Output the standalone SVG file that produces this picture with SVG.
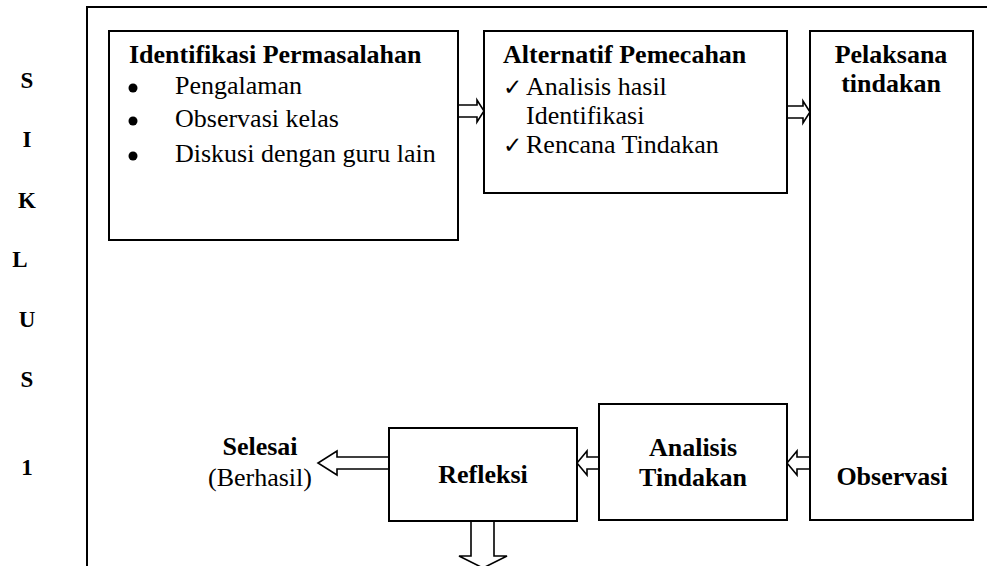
<svg xmlns="http://www.w3.org/2000/svg" width="987" height="566" viewBox="0 0 987 566">
<style>
.box{fill:#fff;stroke:#000;stroke-width:2}
.frame{fill:none;stroke:#000;stroke-width:2}
.arr{fill:#fff;stroke:#000;stroke-width:1.6;stroke-linejoin:miter}
.dot{fill:#000}
text{font-family:"Liberation Serif","Times New Roman",serif;font-size:26px;fill:#000}
.b{font-weight:bold}
.c{text-anchor:middle}
.v{font-weight:bold;font-size:23px;text-anchor:middle}
.chk{font-family:"DejaVu Sans",sans-serif;font-size:23px}
</style>
<rect width="987" height="566" fill="#fff"/>
<g id="frame"><path class="frame" d="M87,566 L87,7 L987,7"/></g>
<g id="siklus-label">
<text class="v" x="27" y="88">S</text>
<text class="v" x="27" y="147">I</text>
<text class="v" x="27" y="208">K</text>
<text class="v" x="20" y="267">L</text>
<text class="v" x="27" y="327">U</text>
<text class="v" x="27" y="387">S</text>
<text class="v" x="27" y="475">1</text>
</g>
<g id="connectors">
<path class="arr" d="M459,105 L477,105 L477,100 L484,111 L477,122 L477,117 L459,117"/>
<path class="arr" d="M787,106 L803,106 L803,101 L810,112 L803,123 L803,118 L787,118"/>
<path class="arr" d="M809,457 L797,457 L797,451 L787,463 L797,475 L797,469 L809,469"/>
<path class="arr" d="M599,457 L587,457 L587,451 L577,463 L587,475 L587,469 L599,469"/>
<path class="arr" d="M389,457 L337,457 L337,451 L318,463 L337,475 L337,469 L389,469"/>
<path class="arr" d="M471,521 L471,556 L459,556 L483,568 L507,556 L494,556 L494,521"/>
</g>
<g id="identifikasi">
<rect class="box" x="109" y="31" width="349" height="209"/>
<text class="b" x="129" y="63">Identifikasi Permasalahan</text>
<circle class="dot" cx="133" cy="88" r="4.5"/><text x="175" y="94">Pengalaman</text>
<circle class="dot" cx="133" cy="121" r="4.5"/><text x="175" y="127">Observasi kelas</text>
<circle class="dot" cx="133" cy="156" r="4.5"/><text x="175" y="162">Diskusi dengan guru lain</text>
</g>
<g id="alternatif">
<rect class="box" x="484" y="31" width="303" height="162"/>
<text class="b" x="503" y="63">Alternatif Pemecahan</text>
<text class="chk" x="503" y="95">✓</text><text x="526" y="95">Analisis hasil</text>
<text x="526" y="124">Identifikasi</text>
<text class="chk" x="503" y="153">✓</text><text x="526" y="153">Rencana Tindakan</text>
</g>
<g id="pelaksana">
<rect class="box" x="810" y="31" width="163" height="489"/>
<text class="b c" x="891" y="63">Pelaksana</text>
<text class="b c" x="891" y="92">tindakan</text>
<text class="b c" x="892" y="485">Observasi</text>
</g>
<g id="analisis">
<rect class="box" x="599" y="404" width="188" height="116"/>
<text class="b c" x="693" y="456">Analisis</text>
<text class="b c" x="693" y="486">Tindakan</text>
</g>
<g id="refleksi">
<rect class="box" x="389" y="428" width="188" height="93"/>
<text class="b c" x="483" y="483">Refleksi</text>
</g>
<g id="selesai">
<text class="b c" x="260" y="455">Selesai</text>
<text class="c" x="260" y="486">(Berhasil)</text>
</g>
</svg>
